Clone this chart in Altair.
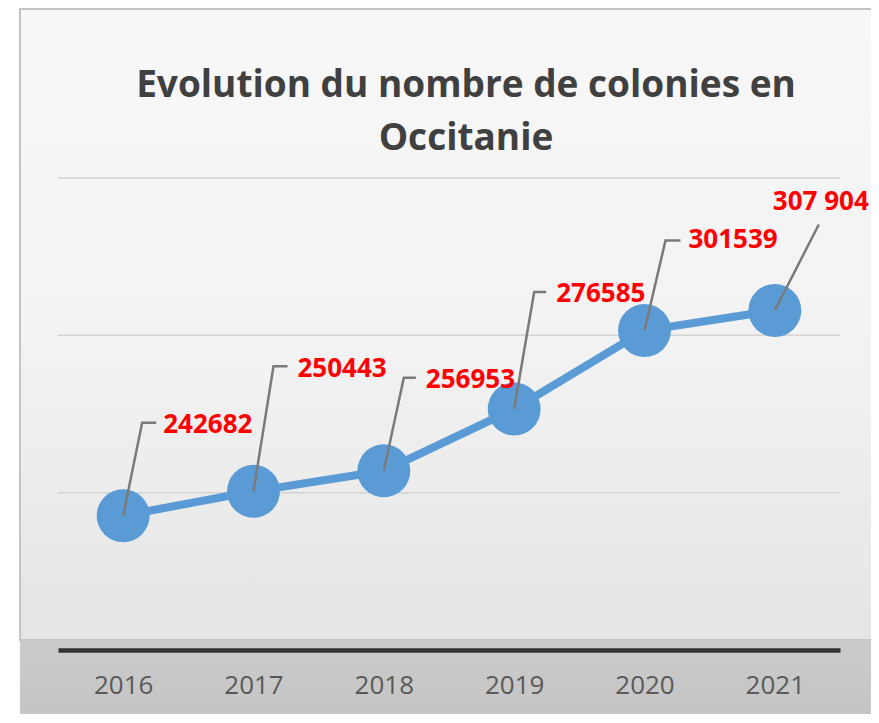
import altair as alt
import pandas as pd

# ---------------- data ----------------
YEARS = [2016, 2017, 2018, 2019, 2020, 2021]
VALUES = [242682, 250443, 256953, 276585, 301539, 307904]
LABELS = ["242682", "250443", "256953", "276585", "301539", "307 904"]
GRID_VALUES = [250000, 300000, 350000]
TITLE = ["Evolution du nombre de colonies en", "Occitanie"]

# ---------------- layout (pixels) ----------------
W, H = 782, 472
X_DOMAIN = [2015.5, 2021.5]
Y_DOMAIN = [200000, 350000]
# leader-line elbow / end and label anchor, pixel offsets from each point
ELBOW = [(19, -93), (20, -125), (20, -93), (20, -117), (21, -90), (44, -86)]
END = [(33, -93), (34, -125), (32, -93), (32, -117), (36, -90), (44, -86)]
LABEL_AT = [(40, -91), (44, -122), (42, -91), (42, -115), (44, -90), (-2, -108)]

FONT = "Open Sans"
BLUE = "#5b9bd5"

px_x = (X_DOMAIN[1] - X_DOMAIN[0]) / W
px_y = (Y_DOMAIN[1] - Y_DOMAIN[0]) / H

pts = pd.DataFrame({"year": YEARS, "value": VALUES})

rows = []
for yr, v, e, n in zip(YEARS, VALUES, ELBOW, END):
    rows.append({"year": yr, "value": v, "k": 0, "id": yr})
    rows.append({"year": yr + e[0] * px_x, "value": v - e[1] * px_y, "k": 1, "id": yr})
    rows.append({"year": yr + n[0] * px_x, "value": v - n[1] * px_y, "k": 2, "id": yr})
leaders = pd.DataFrame(rows)

labs = pd.DataFrame({
    "year": [yr + l[0] * px_x for yr, l in zip(YEARS, LABEL_AT)],
    "value": [v - l[1] * px_y for v, l in zip(VALUES, LABEL_AT)],
    "label": LABELS,
})

grid = pd.DataFrame({"g": GRID_VALUES})
one = pd.DataFrame({"a": [0]})

xscale = alt.Scale(domain=X_DOMAIN, nice=False, zero=False)
yscale = alt.Scale(domain=Y_DOMAIN, nice=False, zero=False)

panel = alt.Chart(one).mark_rect(
    fill=alt.LinearGradient(
        gradient="linear", x1=0, y1=0, x2=0, y2=1,
        stops=[alt.GradientStop(color="#f8f8f8", offset=0),
               alt.GradientStop(color="#f2f2f2", offset=0.55),
               alt.GradientStop(color="#e5e5e5", offset=1)]),
    stroke="#c4c4c4", strokeWidth=2,
).encode(x=alt.value(-38), x2=alt.value(815), y=alt.value(-169), y2=alt.value(462))

band = alt.Chart(one).mark_rect(
    fill=alt.LinearGradient(
        gradient="linear", x1=0, y1=0, x2=0, y2=1,
        stops=[alt.GradientStop(color="#cbcbcb", offset=0),
               alt.GradientStop(color="#c3c3c3", offset=1)]),
).encode(x=alt.value(-38), x2=alt.value(819), y=alt.value(462), y2=alt.value(560))

title1 = alt.Chart(one).mark_text(
    text=TITLE[0], font=FONT, fontSize=37, fontWeight="bold", color="#404040",
    align="center", baseline="alphabetic",
).encode(x=alt.value(408), y=alt.value(-81))

title2 = alt.Chart(one).mark_text(
    text=TITLE[1], font=FONT, fontSize=37, fontWeight="bold", color="#404040",
    align="center", baseline="alphabetic",
).encode(x=alt.value(408), y=alt.value(-28))

gridlines = alt.Chart(grid).mark_rule(color="#d3d3d3", strokeWidth=1.5).encode(
    y=alt.Y("g:Q", scale=yscale, axis=None),
    x=alt.value(0), x2=alt.value(W),
)

line = alt.Chart(pts).mark_line(color=BLUE, strokeWidth=8).encode(
    x=alt.X("year:Q", scale=xscale,
            axis=alt.Axis(values=YEARS, format="d", ticks=False, grid=False,
                          domainColor="#333333", domainWidth=4.5,
                          labelFont=FONT, labelFontSize=26, labelColor="#595959",
                          labelPadding=22, title=None, zindex=1)),
    y=alt.Y("value:Q", scale=yscale, axis=None),
)

dots = alt.Chart(pts).mark_point(filled=True, shape="circle", size=2800,
                                 color=BLUE, opacity=1).encode(
    x=alt.X("year:Q", scale=xscale),
    y=alt.Y("value:Q", scale=yscale),
)

leader = alt.Chart(leaders).mark_line(color="#7a7a7a", strokeWidth=2.5).encode(
    x=alt.X("year:Q", scale=xscale),
    y=alt.Y("value:Q", scale=yscale),
    detail="id:N",
    order="k:Q",
)

text = alt.Chart(labs).mark_text(
    align="left", baseline="middle", font=FONT, fontSize=26,
    fontWeight="bold", color="#ff0000",
).encode(
    x=alt.X("year:Q", scale=xscale),
    y=alt.Y("value:Q", scale=yscale),
    text="label:N",
)

chart = alt.layer(panel, band, title1, title2, gridlines, line, dots, leader, text).properties(
    width=W, height=H,
    autosize=alt.AutoSizeParams(type="none"),
    padding={"left": 50, "top": 170, "right": 31, "bottom": 64},
).configure_view(stroke=None).configure(background="white")

chart.save("out.html", embed_options={"renderer": "svg", "actions": False})
